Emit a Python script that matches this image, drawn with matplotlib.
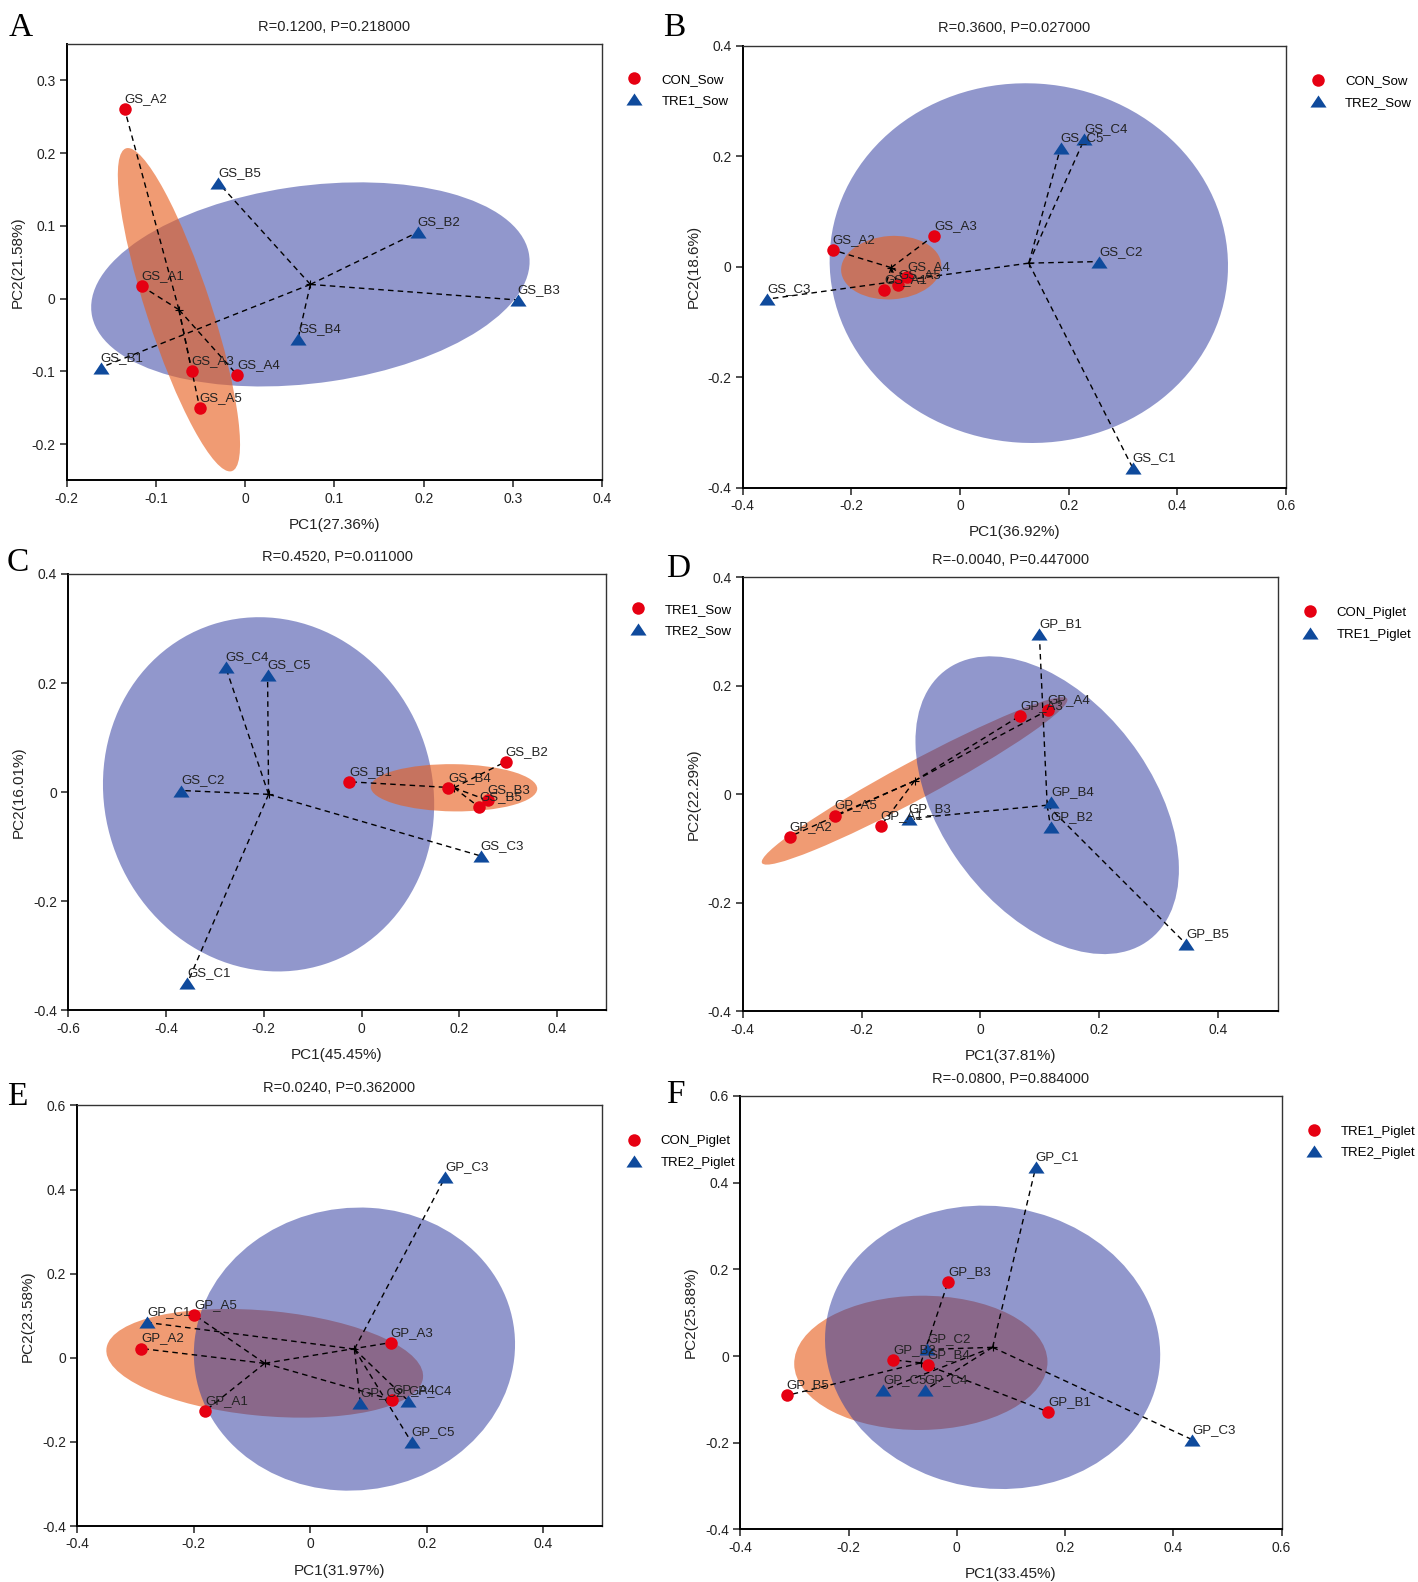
import numpy as np
import matplotlib
matplotlib.use('Agg')
import matplotlib.pyplot as plt
from matplotlib.patches import Ellipse
from matplotlib.lines import Line2D
from matplotlib.ticker import FuncFormatter, MultipleLocator

plt.rcParams['font.family'] = ['Liberation Sans', 'DejaVu Sans']

# ---- data (PC1, PC2 scores) ----
# A: CON_Sow vs TRE1_Sow
a_groups = ['CON_Sow', 'TRE1_Sow']
a_stats = (0.1200, 0.218000)
a_var = ('27.36', '21.58')
a_red_ids = ['GS_A1', 'GS_A2', 'GS_A3', 'GS_A4', 'GS_A5']
a_red_pc1 = [-0.116, -0.135, -0.060, -0.009, -0.051]
a_red_pc2 = [0.017, 0.260, -0.099, -0.105, -0.150]
a_blue_ids = ['GS_B1', 'GS_B2', 'GS_B3', 'GS_B4', 'GS_B5']
a_blue_pc1 = [-0.162, 0.193, 0.305, 0.059, -0.030]
a_blue_pc2 = [-0.095, 0.091, -0.002, -0.056, 0.159]

# B: CON_Sow vs TRE2_Sow
b_groups = ['CON_Sow', 'TRE2_Sow']
b_stats = (0.3600, 0.027000)
b_var = ('36.92', '18.6')
b_red_ids = ['GS_A1', 'GS_A2', 'GS_A3', 'GS_A4', 'GS_A5']
b_red_pc1 = [-0.140, -0.234, -0.048, -0.097, -0.114]
b_red_pc2 = [-0.043, 0.030, 0.056, -0.019, -0.034]
b_blue_ids = ['GS_C1', 'GS_C2', 'GS_C3', 'GS_C4', 'GS_C5']
b_blue_pc1 = [0.318, 0.256, -0.355, 0.229, 0.185]
b_blue_pc2 = [-0.365, 0.009, -0.059, 0.231, 0.215]

# C: TRE1_Sow vs TRE2_Sow
c_groups = ['TRE1_Sow', 'TRE2_Sow']
c_stats = (0.4520, 0.011000)
c_var = ('45.45', '16.01')
c_red_ids = ['GS_B1', 'GS_B2', 'GS_B3', 'GS_B4', 'GS_B5']
c_red_pc1 = [-0.025, 0.295, 0.258, 0.177, 0.240]
c_red_pc2 = [0.019, 0.056, -0.015, 0.007, -0.027]
c_blue_ids = ['GS_C1', 'GS_C2', 'GS_C3', 'GS_C4', 'GS_C5']
c_blue_pc1 = [-0.356, -0.368, 0.244, -0.278, -0.192]
c_blue_pc2 = [-0.350, 0.003, -0.117, 0.230, 0.214]

# D: CON_Piglet vs TRE1_Piglet
d_groups = ['CON_Piglet', 'TRE1_Piglet']
d_stats = (-0.0040, 0.447000)
d_var = ('37.81', '22.29')
d_red_ids = ['GP_A1', 'GP_A2', 'GP_A3', 'GP_A4', 'GP_A5']
d_red_pc1 = [-0.168, -0.321, 0.067, 0.113, -0.245]
d_red_pc2 = [-0.059, -0.078, 0.145, 0.155, -0.039]
d_blue_ids = ['GP_B1', 'GP_B2', 'GP_B3', 'GP_B4', 'GP_B5']
d_blue_pc1 = [0.099, 0.118, -0.121, 0.119, 0.346]
d_blue_pc2 = [0.296, -0.061, -0.045, -0.014, -0.276]

# E: CON_Piglet vs TRE2_Piglet
e_groups = ['CON_Piglet', 'TRE2_Piglet']
e_stats = (0.0240, 0.362000)
e_var = ('31.97', '23.58')
e_red_ids = ['GP_A1', 'GP_A2', 'GP_A3', 'GP_A4', 'GP_A5']
e_red_pc1 = [-0.180, -0.290, 0.138, 0.141, -0.199]
e_red_pc2 = [-0.126, 0.022, 0.036, -0.100, 0.102]
e_blue_ids = ['GP_C1', 'GP_C2', 'GP_C3', 'GP_C4', 'GP_C5']
e_blue_pc1 = [-0.280, 0.086, 0.232, 0.168, 0.174]
e_blue_pc2 = [0.084, -0.108, 0.430, -0.102, -0.201]

# F: TRE1_Piglet vs TRE2_Piglet
f_groups = ['TRE1_Piglet', 'TRE2_Piglet']
f_stats = (-0.0800, 0.884000)
f_var = ('33.45', '25.88')
f_red_ids = ['GP_B1', 'GP_B2', 'GP_B3', 'GP_B4', 'GP_B5']
f_red_pc1 = [0.169, -0.117, -0.016, -0.054, -0.314]
f_red_pc2 = [-0.129, -0.009, 0.171, -0.021, -0.091]
f_blue_ids = ['GP_C1', 'GP_C2', 'GP_C3', 'GP_C4', 'GP_C5']
f_blue_pc1 = [0.146, -0.055, 0.435, -0.059, -0.136]
f_blue_pc2 = [0.436, 0.015, -0.193, -0.079, -0.079]

panels = [
    ('A', a_groups, a_stats, a_var, (a_red_ids, a_red_pc1, a_red_pc2), (a_blue_ids, a_blue_pc1, a_blue_pc2)),
    ('B', b_groups, b_stats, b_var, (b_red_ids, b_red_pc1, b_red_pc2), (b_blue_ids, b_blue_pc1, b_blue_pc2)),
    ('C', c_groups, c_stats, c_var, (c_red_ids, c_red_pc1, c_red_pc2), (c_blue_ids, c_blue_pc1, c_blue_pc2)),
    ('D', d_groups, d_stats, d_var, (d_red_ids, d_red_pc1, d_red_pc2), (d_blue_ids, d_blue_pc1, d_blue_pc2)),
    ('E', e_groups, e_stats, e_var, (e_red_ids, e_red_pc1, e_red_pc2), (e_blue_ids, e_blue_pc1, e_blue_pc2)),
    ('F', f_groups, f_stats, f_var, (f_red_ids, f_red_pc1, f_red_pc2), (f_blue_ids, f_blue_pc1, f_blue_pc2)),
]

# ---- layout (pixels in the 1418x1582 figure) ----
W, H = 1418, 1582
# left, right, top, bottom, xlim, ylim, xstep, ystep, orange ellipse on top, letter pos
layout = [
    (66.6, 602.4, 43.9, 480.4, (-0.2, 0.4), (-0.25, 0.35), 0.1, 0.1, True, (9, 36.5)),
    (742.6, 1286.1, 45.6, 487.5, (-0.4, 0.6), (-0.4, 0.4), 0.2, 0.2, True, (663, 36.5)),
    (68.0, 606.1, 573.9, 1010.4, (-0.6, 0.5), (-0.4, 0.4), 0.2, 0.2, True, (7, 570.5)),
    (742.6, 1277.8, 577.3, 1011.4, (-0.4, 0.5), (-0.4, 0.4), 0.2, 0.2, False, (666, 577)),
    (77.1, 601.5, 1105.4, 1526.0, (-0.4, 0.5), (-0.4, 0.6), 0.2, 0.2, False, (7, 1105)),
    (740.3, 1281.5, 1095.9, 1529.4, (-0.4, 0.6), (-0.4, 0.6), 0.2, 0.2, False, (666, 1103)),
]

RED = '#E60012'
BLUE = '#0F4A9C'
ORANGE_FILL = '#E75E1D'
BLUE_FILL = '#2F3CA0'
ELL_K = 1.34
TRI = [(0, 0.75), (-1, -0.75), (1, -0.75)]

fig = plt.figure(figsize=(W / 100, H / 100), dpi=100)


def fmt(v, pos):
    if abs(v) < 1e-9:
        return '0'
    return f'{v:.1f}'


def cov_ellipse(x, y, k, **kw):
    cov = np.cov(x, y)
    vals, vecs = np.linalg.eigh(cov)
    order = vals.argsort()[::-1]
    vals, vecs = vals[order], vecs[:, order]
    ang = np.degrees(np.arctan2(vecs[1, 0], vecs[0, 0]))
    return Ellipse((np.mean(x), np.mean(y)), 2 * k * np.sqrt(vals[0]),
                   2 * k * np.sqrt(vals[1]), angle=ang, **kw)


for (letter, groups, stats, var, red, blue), lay in zip(panels, layout):
    l, r, t, b, xlim, ylim, xs, ys, orange_top, lpos = lay
    ax = fig.add_axes([l / W, 1 - b / H, (r - l) / W, (b - t) / H])
    ax.set_xlim(*xlim)
    ax.set_ylim(*ylim)

    rx, ry = np.array(red[1]), np.array(red[2])
    bx, by = np.array(blue[1]), np.array(blue[2])

    # ellipses
    ax.add_patch(cov_ellipse(bx, by, ELL_K, facecolor=BLUE_FILL, alpha=0.53,
                             lw=0, zorder=2 if orange_top else 3))
    ax.add_patch(cov_ellipse(rx, ry, ELL_K, facecolor=ORANGE_FILL, alpha=0.62,
                             lw=0, zorder=3 if orange_top else 2))

    # spider lines to centroids
    for xs_, ys_ in ((rx, ry), (bx, by)):
        cx, cy = xs_.mean(), ys_.mean()
        for px, py in zip(xs_, ys_):
            ax.plot([cx, px], [cy, py], color='black', lw=1.0,
                    ls=(0, (4, 3)), zorder=4)
        ax.plot([cx], [cy], marker='+', color='black', ms=6, mew=0.8, zorder=4)

    ax.scatter(rx, ry, s=81, color=RED, linewidths=0, zorder=5)
    ax.scatter(bx, by, s=135, marker=TRI, color=BLUE, linewidths=0, zorder=5)

    for ids, xs_, ys_ in ((red[0], rx, ry), (blue[0], bx, by)):
        for name, px, py in zip(ids, xs_, ys_):
            ax.annotate(name, (px, py), xytext=(0, 5), textcoords='offset points',
                        ha='left', va='baseline', fontsize=9.5, color='#222222', zorder=6)

    # axes styling
    ax.xaxis.set_major_locator(MultipleLocator(xs))
    ax.yaxis.set_major_locator(MultipleLocator(ys))
    ax.xaxis.set_major_formatter(FuncFormatter(fmt))
    ax.yaxis.set_major_formatter(FuncFormatter(fmt))
    ax.tick_params(direction='out', length=5, width=1.1, labelsize=10,
                   colors='#222222', pad=3)
    for side in ('left', 'bottom'):
        ax.spines[side].set_linewidth(1.4)
        ax.spines[side].set_color('black')
    for side in ('top', 'right'):
        ax.spines[side].set_linewidth(1.0)
        ax.spines[side].set_color('#333333')

    ax.set_xlabel(f'PC1({var[0]}%)', fontsize=11, labelpad=9, color='#222222')
    ax.set_ylabel(f'PC2({var[1]}%)', fontsize=11, labelpad=5, color='#222222')
    ax.set_title(f'R={stats[0]:.4f}, P={stats[1]:.6f}', fontsize=10.5, pad=9.5,
                 color='#222222')

    handles = [
        Line2D([], [], marker='o', color=RED, ls='none', ms=9, mew=0),
        Line2D([], [], marker=TRI, color=BLUE, ls='none', ms=11.6, mew=0),
    ]
    ax.legend(handles, groups, loc='upper left',
              bbox_to_anchor=((r + 24.1) / W, 1 - (t + 29.5) / H),
              bbox_transform=fig.transFigure, frameon=False, fontsize=9.5,
              handlelength=1.2, handletextpad=1.45, labelspacing=0.7,
              borderpad=0, borderaxespad=0)

    fig.text(lpos[0] / W, 1 - lpos[1] / H, letter, fontsize=24,
             family=['Liberation Serif', 'DejaVu Serif'], ha='left', va='baseline')

fig.savefig('out.png', dpi=100)
